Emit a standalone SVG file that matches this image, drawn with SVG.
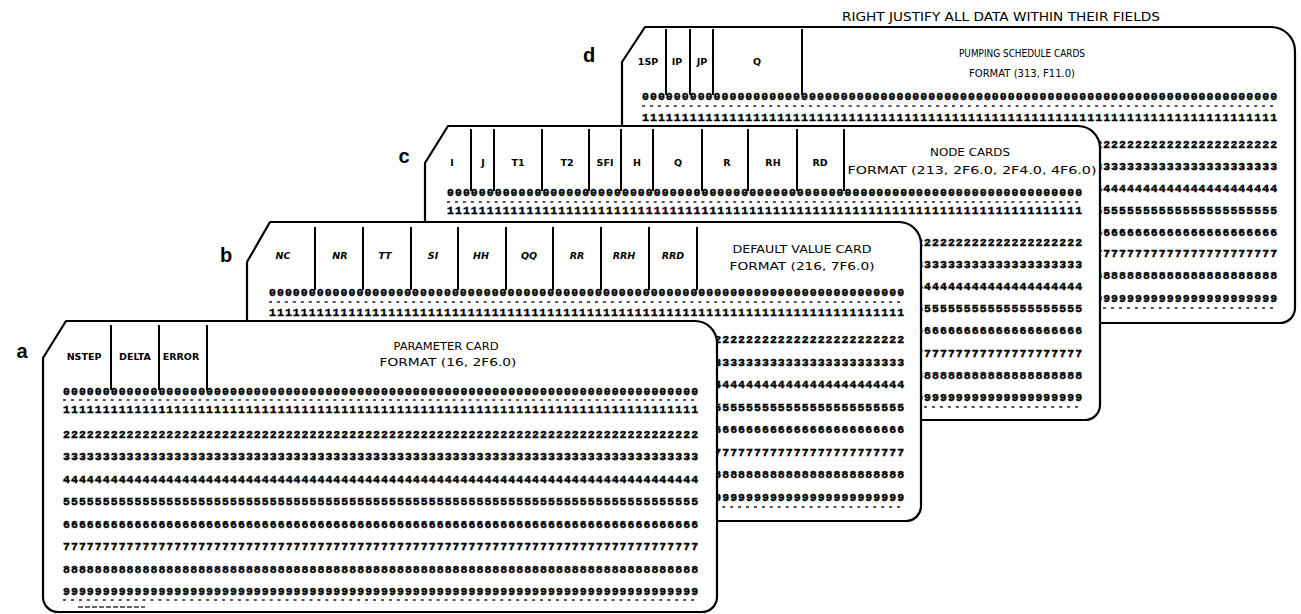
<svg xmlns="http://www.w3.org/2000/svg" xmlns:xlink="http://www.w3.org/1999/xlink" width="1301" height="614" viewBox="0 0 1301 614">
<style>
.card{fill:#fff;stroke:#000;stroke-width:2.2;stroke-linejoin:round}
.dv{stroke:#000;stroke-width:2}
.dg{font-family:"Liberation Mono",monospace;font-size:11.5px;font-weight:bold;letter-spacing:1.05px;fill:#000;stroke:#000;stroke-width:0.45}
.cn{stroke:#555;stroke-width:2.2;stroke-dasharray:3 4.95}
.lbl{font-family:"DejaVu Sans","Liberation Sans",sans-serif;font-size:9.5px;font-weight:bold;fill:#000;text-anchor:middle}
.it{font-style:italic}
.hd{font-family:"DejaVu Sans","Liberation Sans",sans-serif;font-size:10.5px;fill:#000;text-anchor:middle}
.let{font-family:"Liberation Sans",sans-serif;font-size:20px;font-weight:bold;fill:#000;text-anchor:middle}
</style>
<defs>
<text id="r0" class="dg">00000000000000000000000000000000000000000000000000000000000000000000000000000000</text>
<text id="r1" class="dg">11111111111111111111111111111111111111111111111111111111111111111111111111111111</text>
<text id="r2" class="dg">22222222222222222222222222222222222222222222222222222222222222222222222222222222</text>
<text id="r3" class="dg">33333333333333333333333333333333333333333333333333333333333333333333333333333333</text>
<text id="r4" class="dg">44444444444444444444444444444444444444444444444444444444444444444444444444444444</text>
<text id="r5" class="dg">55555555555555555555555555555555555555555555555555555555555555555555555555555555</text>
<text id="r6" class="dg">66666666666666666666666666666666666666666666666666666666666666666666666666666666</text>
<text id="r7" class="dg">77777777777777777777777777777777777777777777777777777777777777777777777777777777</text>
<text id="r8" class="dg">88888888888888888888888888888888888888888888888888888888888888888888888888888888</text>
<text id="r9" class="dg">99999999999999999999999999999999999999999999999999999999999999999999999999999999</text>
<line id="cn" class="cn" x1="0" y1="0" x2="632" y2="0"/>
</defs>

<text class="let" x="589" y="62">d</text>
<text class="let" x="404" y="163">c</text>
<text class="let" x="226" y="262">b</text>
<text class="let" x="22" y="358">a</text>

<text x="1001" y="21" font-family="DejaVu Sans, Liberation Sans, sans-serif" font-size="12" text-anchor="middle" textLength="318" lengthAdjust="spacingAndGlyphs">RIGHT JUSTIFY ALL DATA WITHIN THEIR FIELDS</text>

<g id="card-d">
<path class="card" d="M645,27 L1271,27 A24,24 0 0 1 1295,51 L1295,308 A15,15 0 0 1 1280,323 L637,323 A15,15 0 0 1 622,308 L622,62 Z"/>
<g class="dv"><line x1="666" y1="29" x2="666" y2="95"/><line x1="690" y1="29" x2="690" y2="95"/><line x1="713" y1="29" x2="713" y2="95"/><line x1="802" y1="29" x2="802" y2="95"/></g>
<text class="lbl" x="648" y="65">1SP</text>
<text class="lbl" x="677" y="65">IP</text>
<text class="lbl" x="702" y="65">JP</text>
<text class="lbl" x="757" y="65">Q</text>
<text class="hd" x="1022" y="57" textLength="126" lengthAdjust="spacingAndGlyphs">PUMPING SCHEDULE CARDS</text>
<text class="hd" x="1022" y="77" textLength="106" lengthAdjust="spacingAndGlyphs">FORMAT (313, F11.0)</text>
<use xlink:href="#r0" x="642" y="100"/>
<use xlink:href="#cn" x="642" y="106"/>
<use xlink:href="#r1" x="642" y="121"/>
<use xlink:href="#r2" x="642" y="148"/>
<use xlink:href="#r3" x="642" y="170"/>
<use xlink:href="#r4" x="642" y="192"/>
<use xlink:href="#r5" x="642" y="214"/>
<use xlink:href="#r6" x="642" y="236"/>
<use xlink:href="#r7" x="642" y="257"/>
<use xlink:href="#r8" x="642" y="279"/>
<use xlink:href="#r9" x="642" y="302"/>
<use xlink:href="#cn" x="642" y="308"/>
</g>

<g id="card-c">
<path class="card" d="M448,126 L1078,126 A22,22 0 0 1 1100,148 L1100,405 A15,15 0 0 1 1085,420 L440,420 A15,15 0 0 1 425,405 L425,163 Z"/>
<g class="dv"><line x1="471" y1="129" x2="471" y2="191"/><line x1="494" y1="129" x2="494" y2="191"/><line x1="542" y1="129" x2="542" y2="191"/><line x1="589" y1="129" x2="589" y2="191"/><line x1="621" y1="129" x2="621" y2="191"/><line x1="653" y1="129" x2="653" y2="191"/><line x1="702" y1="129" x2="702" y2="191"/><line x1="748" y1="129" x2="748" y2="191"/><line x1="797" y1="129" x2="797" y2="191"/><line x1="844" y1="129" x2="844" y2="191"/></g>
<text class="lbl" x="452" y="166">I</text>
<text class="lbl" x="483" y="166">J</text>
<text class="lbl" x="518" y="166">T1</text>
<text class="lbl" x="567" y="166">T2</text>
<text class="lbl" x="605" y="166">SFI</text>
<text class="lbl" x="637" y="166">H</text>
<text class="lbl" x="678" y="166">Q</text>
<text class="lbl" x="727" y="166">R</text>
<text class="lbl" x="773" y="166">RH</text>
<text class="lbl" x="820" y="166">RD</text>
<text class="hd" x="970" y="156" textLength="80" lengthAdjust="spacingAndGlyphs">NODE CARDS</text>
<text class="hd" x="972" y="174" textLength="249" lengthAdjust="spacingAndGlyphs">FORMAT (213, 2F6.0, 2F4.0, 4F6.0)</text>
<use xlink:href="#r0" x="447" y="196"/>
<use xlink:href="#cn" x="447" y="202"/>
<use xlink:href="#r1" x="447" y="214"/>
<use xlink:href="#r2" x="447" y="246"/>
<use xlink:href="#r3" x="447" y="268"/>
<use xlink:href="#r4" x="447" y="290"/>
<use xlink:href="#r5" x="447" y="312"/>
<use xlink:href="#r6" x="447" y="334"/>
<use xlink:href="#r7" x="447" y="357"/>
<use xlink:href="#r8" x="447" y="379"/>
<use xlink:href="#r9" x="447" y="401"/>
<use xlink:href="#cn" x="447" y="407"/>
</g>

<g id="card-b">
<path class="card" d="M270,222 L899,222 A22,22 0 0 1 921,244 L921,506 A15,15 0 0 1 906,521 L262,521 A15,15 0 0 1 247,506 L247,262 Z"/>
<g class="dv"><line x1="315" y1="227" x2="315" y2="290"/><line x1="363" y1="227" x2="363" y2="290"/><line x1="411" y1="227" x2="411" y2="290"/><line x1="458" y1="227" x2="458" y2="290"/><line x1="506" y1="227" x2="506" y2="290"/><line x1="553" y1="227" x2="553" y2="290"/><line x1="601" y1="227" x2="601" y2="290"/><line x1="649" y1="227" x2="649" y2="290"/><line x1="697" y1="227" x2="697" y2="290"/></g>
<text class="lbl it" x="283" y="259">NC</text>
<text class="lbl it" x="340" y="259">NR</text>
<text class="lbl it" x="385" y="259">TT</text>
<text class="lbl it" x="433" y="259">SI</text>
<text class="lbl it" x="481" y="259">HH</text>
<text class="lbl it" x="529" y="259">QQ</text>
<text class="lbl it" x="577" y="259">RR</text>
<text class="lbl it" x="624" y="259">RRH</text>
<text class="lbl it" x="673" y="259">RRD</text>
<text class="hd" x="802" y="253" textLength="139" lengthAdjust="spacingAndGlyphs">DEFAULT VALUE CARD</text>
<text class="hd" x="802" y="270" textLength="145" lengthAdjust="spacingAndGlyphs">FORMAT (216, 7F6.0)</text>
<use xlink:href="#r0" x="269" y="296"/>
<use xlink:href="#cn" x="269" y="302"/>
<use xlink:href="#r1" x="269" y="316"/>
<use xlink:href="#r2" x="269" y="343"/>
<use xlink:href="#r3" x="269" y="366"/>
<use xlink:href="#r4" x="269" y="388"/>
<use xlink:href="#r5" x="269" y="411"/>
<use xlink:href="#r6" x="269" y="433"/>
<use xlink:href="#r7" x="269" y="456"/>
<use xlink:href="#r8" x="269" y="478"/>
<use xlink:href="#r9" x="269" y="501"/>
<use xlink:href="#cn" x="269" y="507"/>
</g>

<g id="card-a">
<path class="card" d="M66,321 L695,321 A22,22 0 0 1 717,343 L717,597 A15,15 0 0 1 702,612 L58,612 A15,15 0 0 1 43,597 L43,358 Z"/>
<g class="dv"><line x1="111" y1="325" x2="111" y2="390"/><line x1="159" y1="325" x2="159" y2="390"/><line x1="207" y1="325" x2="207" y2="390"/></g>
<text class="lbl" x="84" y="360">NSTEP</text>
<text class="lbl" x="135" y="360">DELTA</text>
<text class="lbl" x="181" y="360">ERROR</text>
<text class="hd" x="446" y="350" textLength="105" lengthAdjust="spacingAndGlyphs">PARAMETER CARD</text>
<text class="hd" x="448" y="366" textLength="137" lengthAdjust="spacingAndGlyphs">FORMAT (16, 2F6.0)</text>
<use xlink:href="#r0" x="63" y="395"/>
<use xlink:href="#cn" x="63" y="400"/>
<use xlink:href="#r1" x="63" y="413"/>
<use xlink:href="#r2" x="63" y="438"/>
<use xlink:href="#r3" x="63" y="460"/>
<use xlink:href="#r4" x="63" y="483"/>
<use xlink:href="#r5" x="63" y="505"/>
<use xlink:href="#r6" x="63" y="528"/>
<use xlink:href="#r7" x="63" y="550"/>
<use xlink:href="#r8" x="63" y="573"/>
<use xlink:href="#r9" x="63" y="595"/>
<use xlink:href="#cn" x="63" y="600"/>
<line x1="78" y1="607" x2="145" y2="607" stroke="#666" stroke-width="2" stroke-dasharray="5 2"/>
</g>

<g id="connectors"></g>
</svg>
